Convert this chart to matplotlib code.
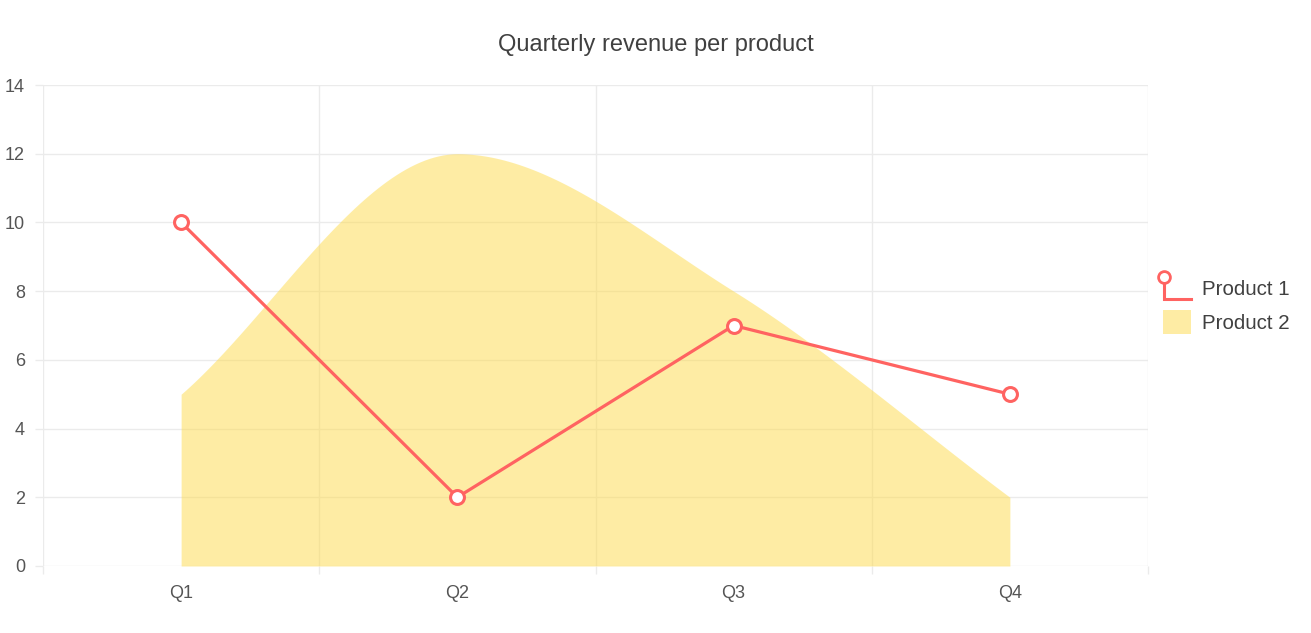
import matplotlib.pyplot as plt
import numpy as np
from matplotlib.lines import Line2D
from matplotlib.patches import Patch
from matplotlib.legend_handler import HandlerBase

plt.rcParams['font.family'] = ['Liberation Sans', 'DejaVu Sans']

# Data
quarters = ['Q1', 'Q2', 'Q3', 'Q4']
product1 = [10, 2, 7, 5]
product2 = [5, 12, 8, 2]

line_color = '#ff6361'
fill_rgba = (254 / 255, 219 / 255, 74 / 255, 0.5)
grid_color = '#ebebeb'
text_color = '#555555'


def monotone_curve(xs, ys, steps=60):
    # monotone cubic (Fritsch-Carlson style, like Chart.js 'monotone')
    xs = np.asarray(xs, float)
    ys = np.asarray(ys, float)
    n = len(xs)
    d = np.diff(ys) / np.diff(xs)
    m = np.zeros(n)
    m[0] = d[0]
    m[-1] = d[-1]
    for k in range(1, n - 1):
        m[k] = 0 if d[k - 1] * d[k] <= 0 else (d[k - 1] + d[k]) / 2
    for k in range(n - 1):
        if d[k] == 0:
            m[k] = m[k + 1] = 0
            continue
        a = m[k] / d[k]
        b = m[k + 1] / d[k]
        s = a * a + b * b
        if s > 9:
            t = 3 / np.sqrt(s)
            m[k] = t * a * d[k]
            m[k + 1] = t * b * d[k]
    px, py = [], []
    for k in range(n - 1):
        h = xs[k + 1] - xs[k]
        t = np.linspace(0, 1, steps)
        h00 = 2 * t**3 - 3 * t**2 + 1
        h10 = t**3 - 2 * t**2 + t
        h01 = -2 * t**3 + 3 * t**2
        h11 = t**3 - t**2
        px.extend(xs[k] + t * h)
        py.extend(h00 * ys[k] + h10 * h * m[k] + h01 * ys[k + 1] + h11 * h * m[k + 1])
    return np.array(px), np.array(py)


class OddLineHandler(HandlerBase):
    # legend glyph: circle on top of an L shaped stroke
    def create_artists(self, legend, orig_handle, xdescent, ydescent,
                       width, height, fontsize, trans):
        x0 = -xdescent + width * 0.05
        x1 = -xdescent + width * 1.0
        ytop = -ydescent + height * 0.95
        ybot = -ydescent + height * 0.05
        stroke = Line2D([x0, x0, x1], [ytop, ybot, ybot], color=line_color,
                        lw=2.2, solid_joinstyle='miter', transform=trans)
        dot = Line2D([x0], [ytop], marker='o', markersize=8.5, markerfacecolor='white',
                     markeredgecolor=line_color, markeredgewidth=2, transform=trans)
        return [stroke, dot]


fig = plt.figure(figsize=(13.11, 6.33), dpi=100)
ax = fig.add_axes([43 / 1311, 1 - 566 / 633, (1148 - 43) / 1311, (566 - 85) / 633])

x = np.arange(len(quarters))
cx, cy = monotone_curve(x, product2)
ax.fill_between(cx, 0, cy, color=fill_rgba, lw=0, zorder=2)
ax.plot(x, product1, color=line_color, lw=2.3, zorder=3,
        marker='o', markersize=10, markerfacecolor='white',
        markeredgecolor=line_color, markeredgewidth=2.2)

ax.set_xlim(-0.5, len(quarters) - 0.5)
ax.set_ylim(0, 14)
ax.set_xticks(x)
ax.set_xticklabels(quarters)
ax.set_xticks(np.arange(-0.5, len(quarters), 1), minor=True)
ax.set_yticks(np.arange(0, 15, 2))

for s in ax.spines.values():
    s.set_visible(False)
ax.grid(False)
ax.grid(True, which='minor', axis='x', color=grid_color, lw=1, zorder=0)
ax.grid(True, which='major', axis='y', color=grid_color, lw=1, zorder=0)
ax.set_axisbelow(True)
ax.tick_params(axis='x', which='major', length=0, pad=14, labelsize=13, labelcolor=text_color)
ax.tick_params(axis='x', which='minor', length=6, color=grid_color, width=1)
ax.tick_params(axis='y', length=6, color=grid_color, width=1, pad=7,
               labelsize=13, labelcolor=text_color)

fig.text(0.5, 1 - 45 / 633, 'Quarterly revenue per product', ha='center', va='center',
         fontsize=17, color='#404040')

handles = [Line2D([], []), Patch(facecolor=fill_rgba, edgecolor='none')]
leg = fig.legend(handles, ['Product 1', 'Product 2'], loc='center left',
                 bbox_to_anchor=(1144 / 1311, 1 - 305 / 633), frameon=False,
                 fontsize=14.8, handler_map={Line2D: OddLineHandler()},
                 handlelength=1.4, handleheight=1.45, handletextpad=0.5, labelspacing=0.45)
for t in leg.get_texts():
    t.set_color('#404040')

fig.savefig('out.png', dpi=100)
